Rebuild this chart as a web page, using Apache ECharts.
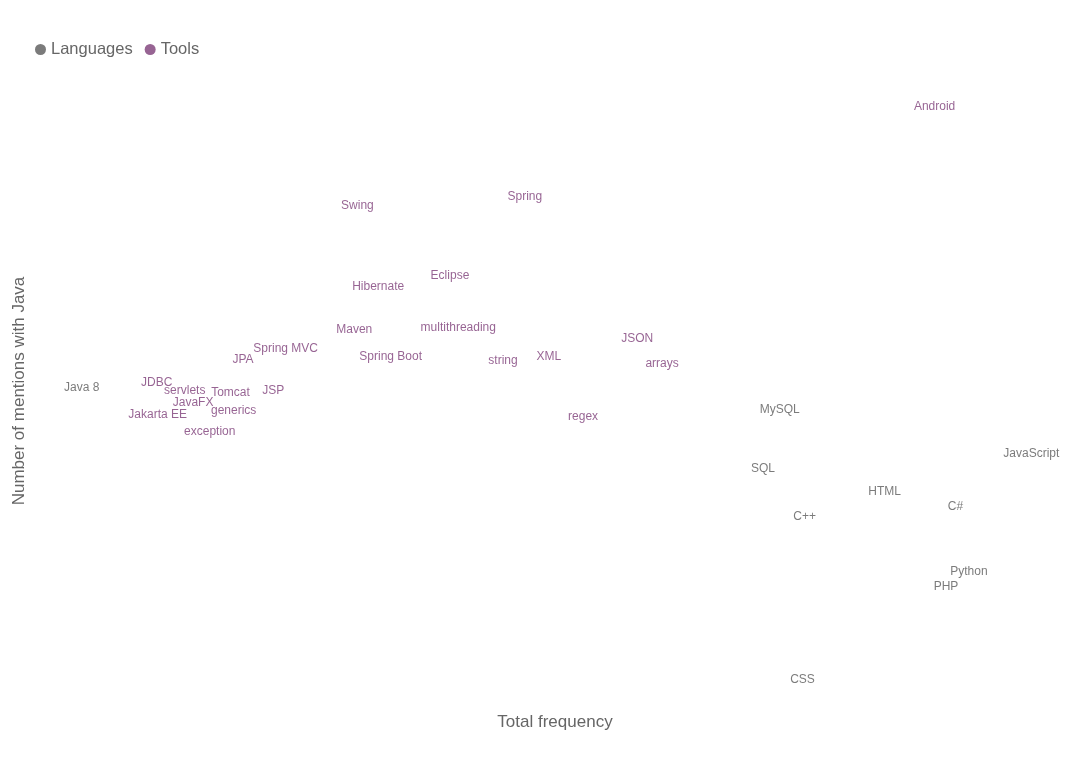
<!DOCTYPE html>
<html>
<head>
<meta charset="utf-8">
<title>Java mentions</title>
<script src="https://cdn.jsdelivr.net/npm/echarts@6/dist/echarts.min.js"></script>
<style>
    html, body { margin: 0; padding: 0; background: #fff; }
    #main { width: 1080px; height: 770px; }
</style>
</head>
<body>
<div id="main"></div>
<script>
// languages
var langNames = ['Java 8', 'MySQL', 'SQL', 'HTML', 'C#', 'C++', 'JavaScript', 'Python', 'PHP', 'CSS'];
var langFreq = [4.5, 71.6, 70.0, 81.7, 88.5, 74.0, 95.8, 89.8, 87.6, 73.8];
var langJava = [50.6, 47.0, 37.6, 34.0, 31.6, 30.0, 40.0, 21.3, 18.9, 4.1];

// tools
var toolNames = ['Android', 'Spring', 'Swing', 'Eclipse', 'Hibernate', 'Maven', 'multithreading',
    'Spring MVC', 'JPA', 'Spring Boot', 'string', 'XML', 'JSON', 'arrays', 'JDBC', 'servlets',
    'Tomcat', 'JSP', 'JavaFX', 'Jakarta EE', 'generics', 'regex', 'exception'];
var toolFreq = [86.5, 47.1, 31.0, 39.9, 33.0, 30.7, 40.7, 24.1, 20.0, 34.2, 45.0, 49.4, 57.9, 60.3,
    11.7, 14.4, 18.8, 22.9, 15.2, 11.8, 19.1, 52.7, 16.8];
var toolJava = [95.1, 80.8, 79.4, 68.3, 66.5, 59.8, 60.0, 56.7, 54.9, 55.4, 54.8, 55.4, 58.3, 54.4,
    51.3, 50.0, 49.8, 50.0, 48.1, 46.3, 46.8, 45.9, 43.5];

function toPoints(names, xs, ys) {
    return names.map(function (n, i) {
        return { name: n, value: [xs[i], ys[i]] };
    });
}

var langColor = '#5a5a5a';
var toolColor = '#7d3d78';

var myChart = echarts.init(document.getElementById('main'));

var option = {
    animation: false,
    legend: {
        left: 30,
        top: 36,
        icon: 'circle',
        itemWidth: 11,
        itemHeight: 11,
        itemGap: 12,
        textStyle: { fontSize: 16.5, color: '#666' },
        data: ['Languages', 'Tools']
    },
    grid: { left: 35, right: 5, top: 76, bottom: 64, outerBoundsMode: 'none' },
    xAxis: {
        type: 'value',
        min: 0,
        max: 100,
        name: 'Total frequency',
        nameLocation: 'middle',
        nameGap: 8,
        nameTextStyle: { fontSize: 17, color: '#666' },
        axisLine: { show: false },
        axisTick: { show: false },
        axisLabel: { show: false },
        splitLine: { show: false }
    },
    yAxis: {
        type: 'value',
        min: 0,
        max: 100,
        name: 'Number of mentions with Java',
        nameLocation: 'middle',
        nameGap: 7,
        nameTextStyle: { fontSize: 17, color: '#666' },
        axisLine: { show: false },
        axisTick: { show: false },
        axisLabel: { show: false },
        splitLine: { show: false }
    },
    series: [
        {
            name: 'Languages',
            type: 'scatter',
            symbolSize: 0,
            itemStyle: { color: langColor },
            label: {
                show: true,
                position: 'inside',
                formatter: '{b}',
                fontSize: 12,
                color: langColor
            },
            data: toPoints(langNames, langFreq, langJava)
        },
        {
            name: 'Tools',
            type: 'scatter',
            symbolSize: 0,
            itemStyle: { color: toolColor },
            label: {
                show: true,
                position: 'inside',
                formatter: '{b}',
                fontSize: 12,
                color: toolColor
            },
            data: toPoints(toolNames, toolFreq, toolJava)
        }
    ]
};

myChart.setOption(option);
</script>
</body>
</html>
